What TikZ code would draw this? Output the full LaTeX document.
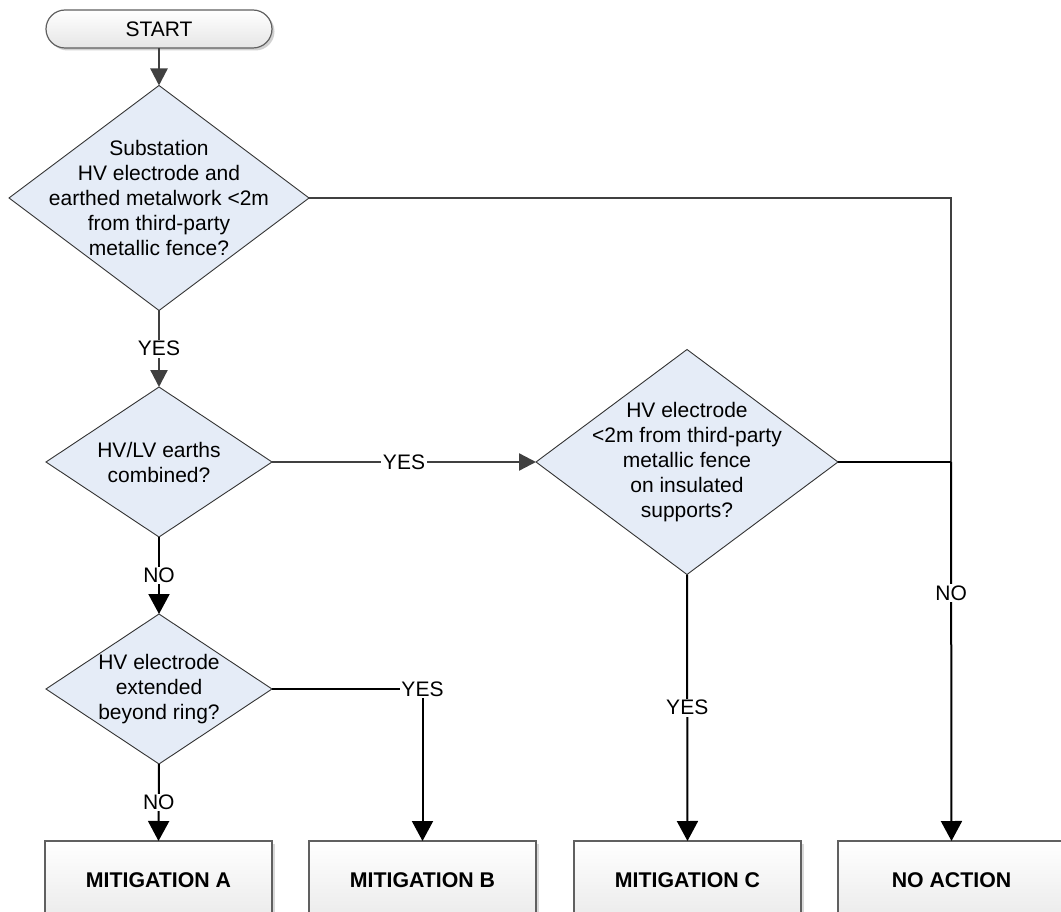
\documentclass[tikz,border=0pt]{standalone}
\usepackage{fontspec}
\setmainfont{Liberation Sans}
\usetikzlibrary{shapes.geometric,arrows.meta,shadows}

\definecolor{decfill}{RGB}{229,236,247}
\definecolor{edgegray}{RGB}{64,64,64}
\definecolor{framegray}{RGB}{96,96,96}

\tikzset{
  basefont/.style={font=\fontsize{21}{25}\selectfont},
  startbox/.style={rectangle, rounded corners=19pt, draw=framegray, line width=1.2pt,
    top color=white, bottom color=black!10, minimum width=226pt, minimum height=38pt,
    inner sep=0pt, outer sep=0pt,
    drop shadow={shadow xshift=2.5pt, shadow yshift=-2.5pt, fill=black!18, opacity=1}},
  decision/.style={diamond, draw=black!80, line width=0.9pt, fill=decfill,
    inner sep=0pt, outer sep=0pt},
  dtext/.style={align=center, inner sep=0pt},
  endbox/.style={rectangle, draw=framegray, line width=1.1pt,
    top color=white, bottom color=black!8, minimum width=227pt, minimum height=78pt,
    inner sep=0pt, outer sep=0pt, font=\fontsize{21.3}{25}\selectfont\bfseries,
    drop shadow={shadow xshift=3pt, shadow yshift=-3pt, fill=black!15, opacity=1}},
  gline/.style={draw=edgegray, line width=2.3pt},
  garrow/.style={gline, -{Triangle[width=17pt,length=17pt]}},
  bline/.style={draw=black, line width=2pt},
  barrow/.style={bline, -{Triangle[width=21pt,length=20pt]}},
  elabel/.style={fill=white, inner sep=1.5pt, text=black}
}

\begin{document}
\begin{tikzpicture}[x=1pt, y=-1pt, basefont]
  \useasboundingbox (0,0) rectangle (1061,912);
  \clip (0,0) rectangle (1061,912);

  % start terminal
  \node[startbox] (start) at (159,29) {START};

  % decision diamonds
  \node[decision, minimum width=300pt, minimum height=225pt] (d1) at (159,198) {};
  \node[dtext] (d1t) at (d1.center)
    {Substation\\HV electrode and\\earthed metalwork <2m\\from third-party\\metallic fence?};

  \node[decision, minimum width=226pt, minimum height=150pt] (d2) at (159,462) {};
  \node[dtext] (d2t) at (d2.center) {HV/LV earths\\combined?};

  \node[decision, minimum width=226pt, minimum height=150pt] (d3) at (159,689) {};
  \node[dtext] (d3t) at (d3.center) {HV electrode\\extended\\beyond ring?};

  \node[decision, minimum width=302pt, minimum height=225pt] (d4) at (687,462) {};
  \node[dtext] (d4t) at (d4.center)
    {HV electrode\\<2m from third-party\\metallic fence\\on insulated\\supports?};

  % outcomes
  \node[endbox] (ma) at (158.5,880) {MITIGATION A};
  \node[endbox] (mb) at (422.5,880) {MITIGATION B};
  \node[endbox] (mc) at (687.5,880) {MITIGATION C};
  \node[endbox] (na) at (951.5,880) {NO ACTION};

  \coordinate (jn) at (951,462);

  % connectors
  \draw[garrow] (start.south) -- (d1.north);
  \draw[garrow] (d1.south) -- node[elabel] {YES} (d2.north);
  \draw[garrow] (d2.east) -- node[elabel] {YES} (d4.west);
  \draw[barrow] (d2.south) -- node[elabel] {NO} (d3.north);
  \draw[barrow] (d3.south) -- node[elabel] {NO} (ma.north);
  \draw[barrow] (d3.east) -| node[elabel] {YES} (mb.north);
  \draw[barrow] (d4.south) -- node[elabel, pos=0.5] {YES} (mc.north);
  \draw[gline] (d1.east) -| (jn);
  \draw[bline] (d4.east) -- (jn);
  \draw[barrow] (jn) -- node[elabel, pos=0.346] {NO} (na.north);
\end{tikzpicture}
\end{document}
